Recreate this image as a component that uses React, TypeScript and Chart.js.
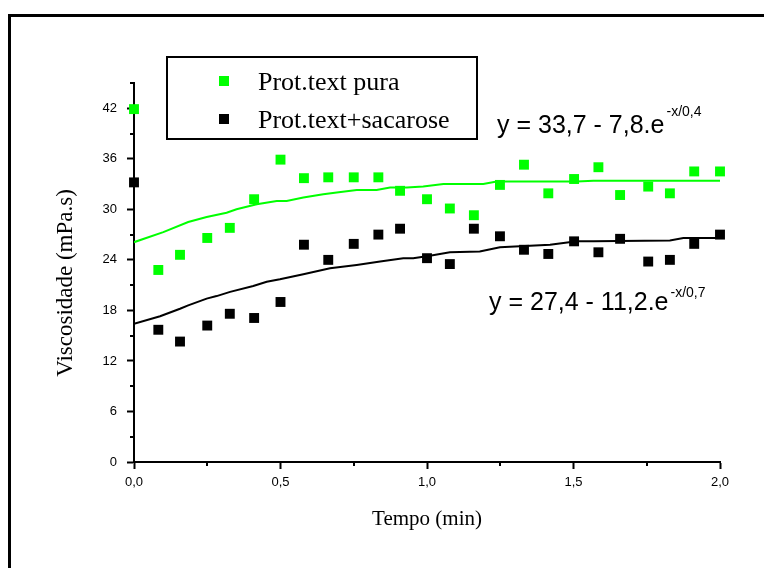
import React, { useEffect, useRef } from 'react';
import { Chart, registerables } from 'chart.js';

Chart.register(...registerables);

// Tempo (min) of the measured points
const time = [0, 0.083, 0.157, 0.25, 0.327, 0.41, 0.5, 0.58, 0.663, 0.75, 0.834, 0.908, 1.0, 1.078, 1.16, 1.249, 1.331, 1.414, 1.502, 1.585, 1.659, 1.755, 1.829, 1.912, 2.0];
// Viscosidade (mPa.s)
const protPura = [41.9, 22.8, 24.6, 26.6, 27.8, 31.2, 35.9, 33.7, 33.8, 33.8, 33.8, 32.2, 31.2, 30.1, 29.3, 32.9, 35.3, 31.9, 33.6, 35.0, 31.7, 32.7, 31.9, 34.5, 34.5];
const protSacarose = [33.2, 15.7, 14.3, 16.2, 17.6, 17.1, 19.0, 25.8, 24.0, 25.9, 27.0, 27.7, 24.2, 23.5, 27.7, 26.8, 25.2, 24.7, 26.2, 24.9, 26.5, 23.8, 24.0, 25.9, 27.0];

// Fitted curves
const fitPuraX = [0, 0.1, 0.185, 0.248, 0.316, 0.35, 0.419, 0.487, 0.521, 0.578, 0.646, 0.692, 0.76, 0.828, 0.874, 0.931, 0.987, 1.056, 1.192, 1.238, 1.511, 1.568, 2.0];
const fitPuraY = [26.1, 27.3, 28.5, 29.1, 29.6, 30.0, 30.6, 31.0, 31.0, 31.4, 31.8, 32.0, 32.3, 32.3, 32.6, 32.6, 32.7, 33.0, 33.0, 33.3, 33.3, 33.4, 33.4];
const fitSacX = [0, 0.089, 0.157, 0.185, 0.248, 0.282, 0.328, 0.407, 0.453, 0.498, 0.578, 0.669, 0.76, 0.84, 0.919, 0.953, 1.01, 1.078, 1.18, 1.249, 1.42, 1.511, 1.568, 1.829, 1.875, 2.0];
const fitSacY = [16.4, 17.3, 18.2, 18.6, 19.4, 19.7, 20.2, 20.9, 21.4, 21.7, 22.3, 23.0, 23.4, 23.8, 24.2, 24.2, 24.5, 24.9, 25.0, 25.5, 25.8, 26.2, 26.2, 26.3, 26.6, 26.6];

const seriesNames = ['Prot.text pura', 'Prot.text+sacarose'];
const equations = [
  { main: 'y = 33,7 - 7,8.e', sup: '-x/0,4' },
  { main: 'y = 27,4 - 11,2.e', sup: '-x/0,7' },
];
const yTitle = 'Viscosidade (mPa.s)';
const xTitle = 'Tempo (min)';

const GREEN = 'rgb(0,255,0)';
const BLACK = '#000000';
const SERIF = '"Liberation Serif", "Times New Roman", serif';
const SANS = '"Liberation Sans", Arial, sans-serif';

const toPts = (xs: number[], ys: number[]) => xs.map((x, i) => ({ x, y: ys[i] }));

const overlay = {
  id: 'overlay',
  afterDraw(chart: any) {
    const ctx = chart.ctx as CanvasRenderingContext2D;
    const xs = chart.scales.x;
    const ys = chart.scales.y;
    const area = chart.chartArea;
    ctx.save();
    // frame (top + left)
    ctx.fillStyle = '#000';
    ctx.fillRect(8, 14, 764 - 8, 3);
    ctx.fillRect(8, 14, 3, 568 - 14);

    // minor ticks
    ctx.strokeStyle = '#000';
    ctx.lineWidth = 2;
    ys.ticks.forEach((t: any) => {
      if (Math.round(t.value) % 6 !== 0) {
        const y = Math.round(ys.getPixelForValue(t.value));
        ctx.beginPath();
        ctx.moveTo(area.left - 4, y);
        ctx.lineTo(area.left, y);
        ctx.stroke();
      }
    });
    xs.ticks.forEach((t: any) => {
      const v2 = t.value * 2;
      if (Math.abs(v2 - Math.round(v2)) > 1e-6) {
        const x = Math.round(xs.getPixelForValue(t.value));
        ctx.beginPath();
        ctx.moveTo(x, area.bottom);
        ctx.lineTo(x, area.bottom + 4);
        ctx.stroke();
      }
    });

    // y title
    ctx.save();
    ctx.translate(66, 283);
    ctx.rotate(-Math.PI / 2);
    ctx.fillStyle = '#000';
    ctx.font = `23px ${SERIF}`;
    ctx.textAlign = 'center';
    ctx.textBaseline = 'middle';
    ctx.fillText(yTitle, 0, 0);
    ctx.restore();

    // legend
    ctx.lineWidth = 2;
    ctx.strokeRect(167, 57, 310, 82);
    ctx.fillStyle = GREEN;
    ctx.fillRect(219, 76, 10, 10);
    ctx.fillStyle = BLACK;
    ctx.fillRect(219, 114, 10, 10);
    ctx.fillStyle = '#000';
    ctx.font = `26px ${SERIF}`;
    ctx.textBaseline = 'alphabetic';
    ctx.textAlign = 'left';
    ctx.fillText(seriesNames[0], 258, 90);
    ctx.fillText(seriesNames[1], 258, 128);

    // equations
    const eqPos = [
      { x: 497, y: 133, sy: 116 },
      { x: 489, y: 310, sy: 297 },
    ];
    equations.forEach((eq, i) => {
      const p = eqPos[i];
      ctx.font = `25px ${SANS}`;
      ctx.fillText(eq.main, p.x, p.y);
      const w = ctx.measureText(eq.main).width;
      ctx.font = `14px ${SANS}`;
      ctx.fillText(eq.sup, p.x + w + 2, p.sy);
    });
    ctx.restore();
  },
};

export default function App() {
  const ref = useRef<HTMLCanvasElement>(null);
  useEffect(() => {
    const chart = new Chart(ref.current as HTMLCanvasElement, {
      type: 'scatter',
      data: {
        datasets: [
          {
            label: seriesNames[0],
            data: toPts(time, protPura),
            pointStyle: 'rect',
            pointRadius: 7,
            pointBorderWidth: 0,
            backgroundColor: GREEN,
            borderColor: GREEN,
            showLine: false,
            order: 1,
            clip: false,
          },
          {
            label: seriesNames[1],
            data: toPts(time, protSacarose),
            pointStyle: 'rect',
            pointRadius: 7,
            pointBorderWidth: 0,
            backgroundColor: BLACK,
            borderColor: BLACK,
            showLine: false,
            order: 1,
            clip: false,
          },
          {
            label: 'fit1',
            data: toPts(fitPuraX, fitPuraY),
            showLine: true,
            pointRadius: 0,
            borderColor: GREEN,
            borderWidth: 2,
            tension: 0,
            order: 2,
          },
          {
            label: 'fit2',
            data: toPts(fitSacX, fitSacY),
            showLine: true,
            pointRadius: 0,
            borderColor: BLACK,
            borderWidth: 2,
            tension: 0,
            order: 2,
          },
        ],
      } as any,
      options: {
        animation: false,
        responsive: false,
        devicePixelRatio: 1,
        layout: { padding: { top: 83, right: 44, left: 0, bottom: 0 } },
        plugins: { legend: { display: false }, tooltip: { enabled: false } },
        scales: {
          x: {
            type: 'linear',
            min: 0,
            max: 2,
            afterFit: (s: any) => { s.height = 106; },
            border: { display: true, color: '#000', width: 2 },
            grid: {
              drawOnChartArea: false,
              drawTicks: true,
              tickLength: 7,
              tickWidth: 2,
              tickColor: (c: any) => {
                const v = c.tick ? c.tick.value * 2 : 0;
                return Math.abs(v - Math.round(v)) < 1e-6 ? '#000' : 'rgba(0,0,0,0)';
              },
            },
            ticks: {
              stepSize: 0.25,
              autoSkip: false,
              maxRotation: 0,
              padding: 6,
              color: '#000',
              font: { family: SANS, size: 13 },
              callback: (v: any) => {
                const n = Number(v);
                return Math.abs(n * 2 - Math.round(n * 2)) < 1e-6 ? n.toFixed(1).replace('.', ',') : '';
              },
            },
            title: {
              display: true,
              text: xTitle,
              color: '#000',
              font: { family: SERIF, size: 21 },
              padding: { top: 0, bottom: 36 },
            },
          },
          y: {
            type: 'linear',
            min: 0,
            max: 45,
            afterFit: (s: any) => { s.width = 134; },
            border: { display: true, color: '#000', width: 2 },
            grid: {
              drawOnChartArea: false,
              drawTicks: true,
              tickLength: 7,
              tickWidth: 2,
              tickColor: (c: any) => (c.tick && Math.round(c.tick.value) % 6 === 0 ? '#000' : 'rgba(0,0,0,0)'),
            },
            ticks: {
              stepSize: 3,
              autoSkip: false,
              padding: 10,
              color: '#000',
              font: { family: SANS, size: 13 },
              callback: (v: any) => (Math.round(Number(v)) % 6 === 0 ? String(v) : ''),
            },
            title: { display: false },
          },
        },
      } as any,
      plugins: [overlay],
    });
    return () => chart.destroy();
  }, []);
  return (
    <div style={{ position: 'absolute', left: 0, top: 0, width: 764, height: 568, background: '#fff' }}>
      <canvas ref={ref} width={764} height={568} style={{ display: 'block' }} />
    </div>
  );
}
